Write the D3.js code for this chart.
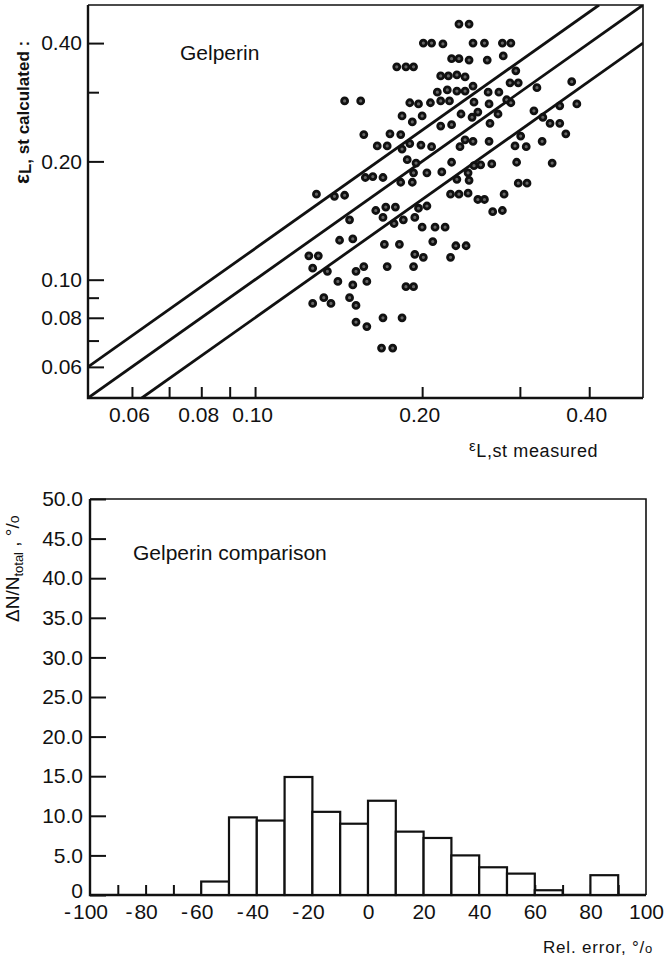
<!DOCTYPE html>
<html>
<head>
<meta charset="utf-8">
<script src="https://cdn.jsdelivr.net/npm/d3@7"></script>
<style>
body { margin: 0; background: #fff; }
svg { display: block; }
</style>
</head>
<body>
<div class="chart"></div>
<script>
// Scatter: measured vs calculated values
const measured = [
  0.233, 0.243, 0.201, 0.208, 0.218, 0.247, 0.259, 0.279, 0.289, 0.226,
  0.233, 0.243, 0.262, 0.280, 0.180, 0.187, 0.193, 0.216, 0.223, 0.231,
  0.239, 0.295, 0.247, 0.288, 0.298, 0.322, 0.372, 0.213, 0.222, 0.231,
  0.239, 0.263, 0.275, 0.284, 0.289, 0.145, 0.155, 0.190, 0.197, 0.207,
  0.216, 0.224, 0.248, 0.264, 0.274, 0.354, 0.380, 0.318, 0.330, 0.184,
  0.192, 0.200, 0.235, 0.246, 0.252, 0.216, 0.226, 0.265, 0.340, 0.354,
  0.363, 0.157, 0.175, 0.183, 0.301, 0.166, 0.173, 0.184, 0.190, 0.199,
  0.208, 0.234, 0.239, 0.247, 0.264, 0.294, 0.308, 0.329, 0.188, 0.195,
  0.226, 0.248, 0.255, 0.267, 0.296, 0.343, 0.193, 0.204, 0.217, 0.242,
  0.158, 0.163, 0.170, 0.183, 0.192, 0.231, 0.243, 0.298, 0.309, 0.129,
  0.139, 0.145, 0.225, 0.233, 0.242, 0.252, 0.259, 0.281, 0.165, 0.172,
  0.179, 0.197, 0.204, 0.268, 0.279, 0.148, 0.170, 0.178, 0.185, 0.194,
  0.200, 0.211, 0.220, 0.142, 0.150, 0.171, 0.182, 0.209, 0.230, 0.240,
  0.194, 0.201, 0.225, 0.125, 0.130, 0.127, 0.135, 0.152, 0.157, 0.173,
  0.193, 0.141, 0.150, 0.159, 0.187, 0.193, 0.133, 0.137, 0.127, 0.148,
  0.152, 0.152, 0.159, 0.170, 0.184, 0.169, 0.177
];
const calculated = [
  0.447, 0.447, 0.400, 0.400, 0.398, 0.400, 0.400, 0.400, 0.400, 0.365,
  0.365, 0.362, 0.362, 0.371, 0.348, 0.348, 0.348, 0.330, 0.330, 0.332,
  0.328, 0.340, 0.311, 0.317, 0.317, 0.308, 0.319, 0.300, 0.304, 0.302,
  0.302, 0.300, 0.300, 0.287, 0.282, 0.285, 0.285, 0.282, 0.280, 0.282,
  0.285, 0.285, 0.283, 0.280, 0.264, 0.277, 0.280, 0.269, 0.259, 0.261,
  0.252, 0.261, 0.264, 0.259, 0.267, 0.246, 0.248, 0.250, 0.250, 0.250,
  0.235, 0.234, 0.235, 0.234, 0.232, 0.219, 0.219, 0.215, 0.222, 0.220,
  0.218, 0.218, 0.227, 0.225, 0.225, 0.219, 0.218, 0.225, 0.202, 0.198,
  0.199, 0.195, 0.196, 0.197, 0.199, 0.198, 0.187, 0.187, 0.188, 0.187,
  0.182, 0.183, 0.182, 0.177, 0.177, 0.180, 0.179, 0.176, 0.176, 0.165,
  0.163, 0.164, 0.165, 0.165, 0.166, 0.160, 0.160, 0.165, 0.150, 0.153,
  0.153, 0.152, 0.154, 0.149, 0.150, 0.142, 0.144, 0.139, 0.142, 0.144,
  0.136, 0.136, 0.136, 0.126, 0.127, 0.123, 0.123, 0.125, 0.122, 0.122,
  0.116, 0.114, 0.114, 0.115, 0.115, 0.107, 0.105, 0.105, 0.108, 0.108,
  0.108, 0.099, 0.097, 0.099, 0.096, 0.096, 0.090, 0.087, 0.087, 0.090,
  0.086, 0.078, 0.076, 0.080, 0.080, 0.067, 0.067
];
// calculated = ratio * measured lines
const bandRatios = [1.2, 1.0, 0.8];
const logLabelTicks = [0.06, 0.08, 0.10, 0.20, 0.40];
const logMinorY = [0.07, 0.09, 0.30];
const logTicksX = [0.06, 0.07, 0.08, 0.09, 0.10, 0.20, 0.30, 0.40];

// Histogram of relative error
const binStart = [-100, -90, -80, -70, -60, -50, -40, -30, -20, -10, 0, 10, 20, 30, 40, 50, 60, 70, 80, 90];
const share = [0, 0, 0, 0, 1.7, 9.8, 9.4, 14.9, 10.5, 9.0, 11.9, 8.0, 7.2, 5.0, 3.5, 2.7, 0.6, 0, 2.5, 0];
const shareTicks = [0, 5, 10, 15, 20, 25, 30, 35, 40, 45, 50];
const shareLabels = ["0", "5.0", "10.0", "15.0", "20.0", "25.0", "30.0", "35.0", "40.0", "45.0", "50.0"];
const errTicks = [-100, -80, -60, -40, -20, 0, 20, 40, 60, 80, 100];

const tickFont = '"Liberation Sans Narrow", "Liberation Sans", Arial, sans-serif';
const textFont = '"Liberation Sans", Arial, sans-serif';
const ink = "#111";

const svg = d3.select(".chart").append("svg")
  .attr("width", 667)
  .attr("height", 961);

function styleAxis(g) {
  g.attr("font-family", null).attr("font-size", null);
  g.select(".domain").remove();
  g.selectAll(".tick line").attr("stroke", ink).attr("stroke-width", 2);
  g.selectAll(".tick text")
    .attr("fill", ink)
    .style("font-family", tickFont)
    .style("font-size", "21px");
}

// ---------- top panel ----------
const x = d3.scaleLog().domain([0.05, 0.5]).range([88, 643]);
const y = d3.scaleLog().domain([0.05, 0.5]).range([398, 5]);

svg.append("defs").append("clipPath").attr("id", "plotClip")
  .append("rect")
  .attr("x", x(0.05)).attr("y", y(0.5))
  .attr("width", x(0.5) - x(0.05)).attr("height", y(0.05) - y(0.5));

// frame
svg.append("path")
  .attr("d", `M${x(0.05)},${y(0.5)}H${x(0.5)}V${y(0.05)}`)
  .attr("fill", "none").attr("stroke", ink).attr("stroke-width", 1.6);
svg.append("path")
  .attr("d", `M${x(0.05)},${y(0.5)}V${y(0.05)}H${x(0.5)}`)
  .attr("fill", "none").attr("stroke", ink).attr("stroke-width", 2.4);

svg.append("g").attr("transform", `translate(${x(0.05)},0)`)
  .call(d3.axisLeft(y).tickValues(logMinorY).tickSize(-11).tickFormat(""))
  .call(styleAxis);
svg.append("g").attr("transform", `translate(${x(0.05)},0)`)
  .call(d3.axisLeft(y).tickValues(logLabelTicks).tickSize(-16).tickPadding(6).tickFormat(d3.format(".2f")))
  .call(styleAxis);

svg.append("g").attr("transform", `translate(0,${y(0.05)})`)
  .call(d3.axisBottom(x).tickValues(logTicksX).tickSize(-11).tickFormat(""))
  .call(styleAxis);
svg.append("g").attr("transform", `translate(0,${y(0.05)})`)
  .call(d3.axisBottom(x).tickValues(logLabelTicks).tickSize(0).tickPadding(9).tickFormat(d3.format(".2f")))
  .call(styleAxis)
  .selectAll(".tick text").attr("dx", -3);

// ratio lines
const ratioLine = d3.line().x(d => x(d[0])).y(d => y(d[1]));
svg.append("g").attr("clip-path", "url(#plotClip)")
  .selectAll("path")
  .data(bandRatios)
  .enter()
  .append("path")
  .attr("d", r => {
    const x0 = Math.max(0.05, 0.05 / r);
    const x1 = Math.min(0.5, 0.5 / r);
    return ratioLine([[x0, r * x0], [x1, r * x1]]);
  })
  .attr("fill", "none")
  .attr("stroke", ink)
  .attr("stroke-width", 2.8);

svg.append("g")
  .selectAll("circle")
  .data(measured)
  .enter()
  .append("circle")
  .attr("cx", d => x(d))
  .attr("cy", (d, i) => y(calculated[i]))
  .attr("r", 3)
  .attr("fill", "#666")
  .attr("stroke", ink)
  .attr("stroke-width", 2.8);

svg.append("text")
  .attr("x", 180).attr("y", 60)
  .style("font-family", textFont).style("font-size", "21px")
  .attr("fill", ink)
  .text("Gelperin");

// axis titles
const xTitle = svg.append("text")
  .attr("x", 469).attr("y", 457)
  .style("font-family", textFont).style("font-size", "18px")
  .style("letter-spacing", "0.6px")
  .attr("fill", ink);
xTitle.append("tspan").attr("dy", -6).style("font-size", "15px").text("ε");
xTitle.append("tspan").attr("dy", 6).text("L,st measured");

const yTitle = svg.append("text")
  .attr("transform", "translate(29,184) rotate(-90)")
  .style("font-family", textFont).style("font-size", "17px")
  .style("font-weight", "bold")
  .attr("fill", ink);
yTitle.append("tspan").style("font-size", "21px").text("ε");
yTitle.append("tspan").attr("dy", 2).text("L,");
yTitle.append("tspan").attr("dy", -2).text(" st calculated :");

// ---------- histogram ----------
const hx = d3.scaleLinear().domain([-100, 100]).range([90, 646]);
const hy = d3.scaleLinear().domain([0, 50]).range([895, 499]);

svg.append("path")
  .attr("d", `M${hx(-100)},${hy(50)}H${hx(100)}V${hy(0)}`)
  .attr("fill", "none").attr("stroke", ink).attr("stroke-width", 1.6);
svg.append("path")
  .attr("d", `M${hx(-100)},${hy(50)}V${hy(0)}H${hx(100)}`)
  .attr("fill", "none").attr("stroke", ink).attr("stroke-width", 2.4);

svg.append("g").attr("transform", `translate(${hx(-100)},0)`)
  .call(d3.axisLeft(hy).tickValues(shareTicks).tickSize(-16).tickPadding(7)
    .tickFormat((d, i) => shareLabels[i]))
  .call(styleAxis)
  .selectAll(".tick text").filter(d => d === 0).attr("y", -4);

svg.append("g").attr("transform", `translate(0,${hy(0)})`)
  .call(d3.axisBottom(hx).tickValues(binStart.slice(1)).tickSize(-10).tickFormat(""))
  .call(styleAxis);

const errAxis = svg.append("g").attr("transform", `translate(0,${hy(0)})`)
  .call(d3.axisBottom(hx).tickValues(errTicks).tickSize(0).tickPadding(9)
    .tickFormat(d => String(Math.abs(d))))
  .call(styleAxis);
// minus signs hang to the left of the digits
errAxis.selectAll(".tick").filter(d => d < 0).each(function () {
  const t = d3.select(this).select("text");
  const w = t.node().getComputedTextLength();
  d3.select(this).append("text")
    .attr("x", -w / 2 - 2).attr("y", 9).attr("dy", "0.71em")
    .attr("text-anchor", "end")
    .attr("fill", ink)
    .style("font-family", tickFont).style("font-size", "21px")
    .text("-");
});

svg.append("g")
  .selectAll("rect")
  .data(binStart)
  .enter()
  .filter((d, i) => share[i] > 0)
  .append("rect")
  .attr("x", d => hx(d))
  .attr("width", d => hx(d + 10) - hx(d))
  .attr("y", d => hy(share[binStart.indexOf(d)]))
  .attr("height", d => hy(0) - hy(share[binStart.indexOf(d)]))
  .attr("fill", "#fff")
  .attr("stroke", ink)
  .attr("stroke-width", 2.2);

svg.append("text")
  .attr("x", 133).attr("y", 560)
  .style("font-family", textFont).style("font-size", "21px")
  .attr("fill", ink)
  .text("Gelperin comparison");

const hyTitle = svg.append("text")
  .attr("transform", "translate(19,622) rotate(-90)")
  .style("font-family", textFont).style("font-size", "19px")
  .attr("fill", ink);
hyTitle.append("tspan").text("ΔN/N");
hyTitle.append("tspan").attr("dy", 4).style("font-size", "13px").text("total");
hyTitle.append("tspan").attr("dy", -4).text(" , °/");
hyTitle.append("tspan").style("font-size", "14px").text("o");

const hxTitle = svg.append("text")
  .attr("x", 543).attr("y", 953)
  .style("font-family", textFont).style("font-size", "17px")
  .style("letter-spacing", "0.8px")
  .attr("fill", ink);
hxTitle.append("tspan").text("Rel. error, °/");
hxTitle.append("tspan").style("font-size", "13px").text("o");
</script>
</body>
</html>
